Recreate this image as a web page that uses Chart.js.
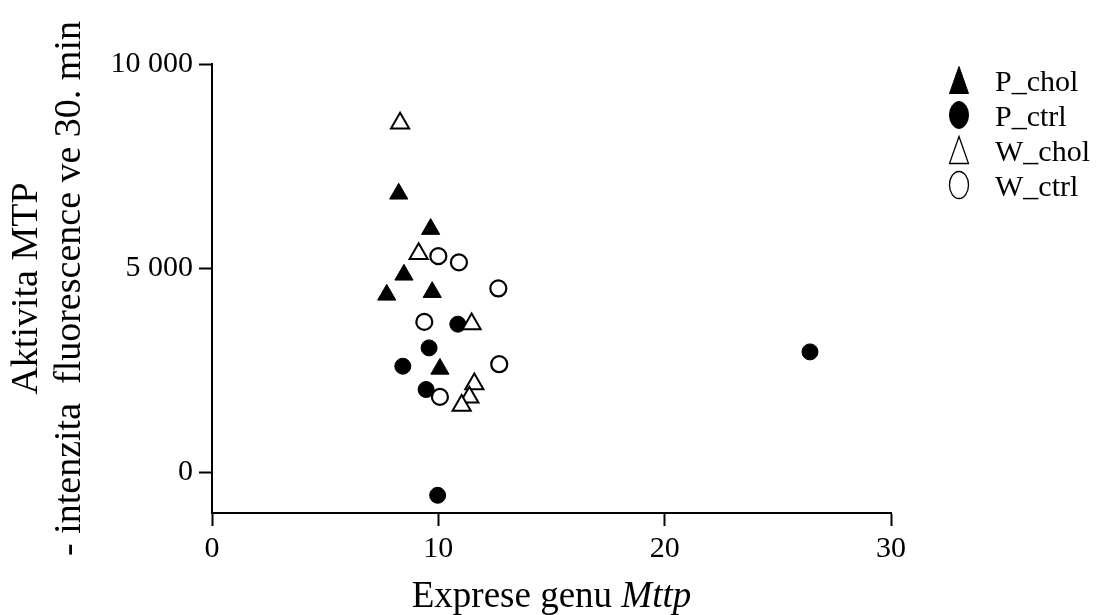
<!DOCTYPE html>
<html>
<head>
<meta charset="utf-8">
<title>Aktivita MTP a exprese genu Mttp</title>
<script src="https://cdn.jsdelivr.net/npm/chart.js@4.4.1/dist/chart.umd.min.js"></script>
<style>
  html, body { margin: 0; padding: 0; background: #fff; }
  #wrap { width: 1101px; height: 615px; }
</style>
</head>
<body>
<div id="wrap"><canvas id="chart" width="1101" height="615"></canvas></div>
<script>
const seriesNames = ['P_chol', 'P_ctrl', 'W_chol', 'W_ctrl'];

// exprese genu Mttp (x) a aktivita MTP (y) pro jednotlive skupiny
const pCholX = [8.25, 9.66, 8.48, 7.72, 9.73, 10.07];
const pCholY = [6820, 5955, 4835, 4344, 4410, 2530];

const pCtrlX = [10.86, 9.59, 8.43, 9.46, 9.97, 26.42];
const pCtrlY = [3626, 3045, 2596, 2025, -566, 2947];

const wCholX = [8.31, 9.13, 11.47, 11.59, 11.37, 11.03];
const wCholY = [8549, 5349, 3633, 2162, 1836, 1633];

const wCtrlX = [10.0, 10.91, 12.65, 9.38, 12.69, 10.07];
const wCtrlY = [5293, 5139, 4501, 3682, 2645, 1844];

const xTicks = [0, 10, 20, 30];
const yTicks = [0, 5000, 10000];

const yTitle = ['Aktivita MTP', '- intenzita  fluorescence ve 30. min'];
const xTitleMain = 'Exprese genu ';
const xTitleGene = 'Mttp';

const SERIF = '"Liberation Serif", "Times New Roman", serif';

function zip(xs, ys) {
  return xs.map((x, i) => ({ x: x, y: ys[i] }));
}

function spaced(v) {
  return String(v).replace(/\B(?=(\d{3})+(?!\d))/g, ' ');
}

const styles = [
  { pointStyle: 'triangle', pointRadius: 10.5, backgroundColor: '#000', borderColor: '#000', borderWidth: 1 },
  { pointStyle: 'circle', pointRadius: 8, backgroundColor: '#000', borderColor: '#000', borderWidth: 1 },
  { pointStyle: 'triangle', pointRadius: 10.5, backgroundColor: '#fff', borderColor: '#000', borderWidth: 2 },
  { pointStyle: 'circle', pointRadius: 8, backgroundColor: '#fff', borderColor: '#000', borderWidth: 2.2 }
];

const seriesData = [zip(pCholX, pCholY), zip(pCtrlX, pCtrlY), zip(wCholX, wCholY), zip(wCtrlX, wCtrlY)];

const datasets = seriesNames.map((name, i) => Object.assign({
  label: name,
  data: seriesData[i],
  showLine: false,
  order: seriesNames.length - i,
  pointHoverRadius: styles[i].pointRadius
}, styles[i]));

// nazev osy x s kurzivou pro gen
const xTitlePlugin = {
  id: 'xTitle',
  afterDraw(chart) {
    const ctx = chart.ctx;
    const area = chart.chartArea;
    const normal = '37px ' + SERIF;
    const italic = 'italic 37px ' + SERIF;
    ctx.save();
    ctx.font = normal;
    const w1 = ctx.measureText(xTitleMain).width;
    ctx.font = italic;
    const w2 = ctx.measureText(xTitleGene).width;
    const x = (area.left + area.right) / 2 - (w1 + w2) / 2;
    const y = 607;
    ctx.fillStyle = '#000';
    ctx.textAlign = 'left';
    ctx.textBaseline = 'alphabetic';
    ctx.font = normal;
    ctx.fillText(xTitleMain, x, y);
    ctx.font = italic;
    ctx.fillText(xTitleGene, x + w1, y);
    ctx.restore();
  }
};

// legenda vpravo nahore, symboly jsou o neco vyssi nez v grafu
const legendPlugin = {
  id: 'sideLegend',
  afterDraw(chart) {
    const ctx = chart.ctx;
    ctx.save();
    ctx.font = '30px ' + SERIF;
    ctx.textAlign = 'left';
    ctx.textBaseline = 'alphabetic';
    chart.data.datasets.forEach((ds, i) => {
      const base = 91 + i * 35;
      const cx = 959, cy = base - 11;
      const w = 19, h = 27;
      ctx.beginPath();
      if (ds.pointStyle === 'triangle') {
        ctx.moveTo(cx, cy - h / 2);
        ctx.lineTo(cx + w / 2, cy + h / 2);
        ctx.lineTo(cx - w / 2, cy + h / 2);
        ctx.closePath();
      } else {
        ctx.ellipse(cx, cy, w / 2, h / 2, 0, 0, Math.PI * 2);
      }
      ctx.fillStyle = ds.backgroundColor;
      ctx.fill();
      ctx.lineWidth = ds.backgroundColor === '#fff' ? 1.3 : 1;
      ctx.strokeStyle = ds.borderColor;
      ctx.stroke();
      ctx.fillStyle = '#000';
      ctx.fillText(ds.label, 995, base);
    });
    ctx.restore();
  }
};

new Chart(document.getElementById('chart'), {
  type: 'scatter',
  data: { datasets: datasets },
  plugins: [xTitlePlugin, legendPlugin],
  options: {
    responsive: false,
    animation: false,
    events: [],
    layout: { padding: { top: 64, right: 210, bottom: 0, left: 0 } },
    plugins: {
      legend: { display: false },
      tooltip: { enabled: false }
    },
    scales: {
      x: {
        type: 'linear',
        min: 0,
        max: 30,
        afterFit(scale) { scale.height = 102; },
        afterBuildTicks(scale) { scale.ticks = xTicks.map(v => ({ value: v })); },
        border: { display: true, color: '#000', width: 2 },
        grid: { display: true, drawOnChartArea: false, drawTicks: true, tickLength: 13, tickWidth: 2, tickColor: '#000' },
        ticks: {
          padding: 5,
          color: '#000',
          font: { family: SERIF, size: 30 },
          callback: v => spaced(v)
        }
      },
      y: {
        type: 'linear',
        min: -1000,
        max: 10000,
        afterFit(scale) { scale.width = 212; },
        afterBuildTicks(scale) { scale.ticks = yTicks.map(v => ({ value: v })); },
        border: { display: true, color: '#000', width: 2 },
        grid: { display: true, drawOnChartArea: false, drawTicks: true, tickLength: 13, tickWidth: 2, tickColor: '#000' },
        ticks: {
          padding: 6,
          color: '#000',
          font: { family: SERIF, size: 30 },
          callback: v => spaced(v)
        },
        title: {
          display: true,
          text: yTitle,
          color: '#000',
          padding: { top: 6, bottom: 0 },
          font: { family: SERIF, size: 38, lineHeight: 1.13 }
        }
      }
    }
  }
});
</script>
</body>
</html>
